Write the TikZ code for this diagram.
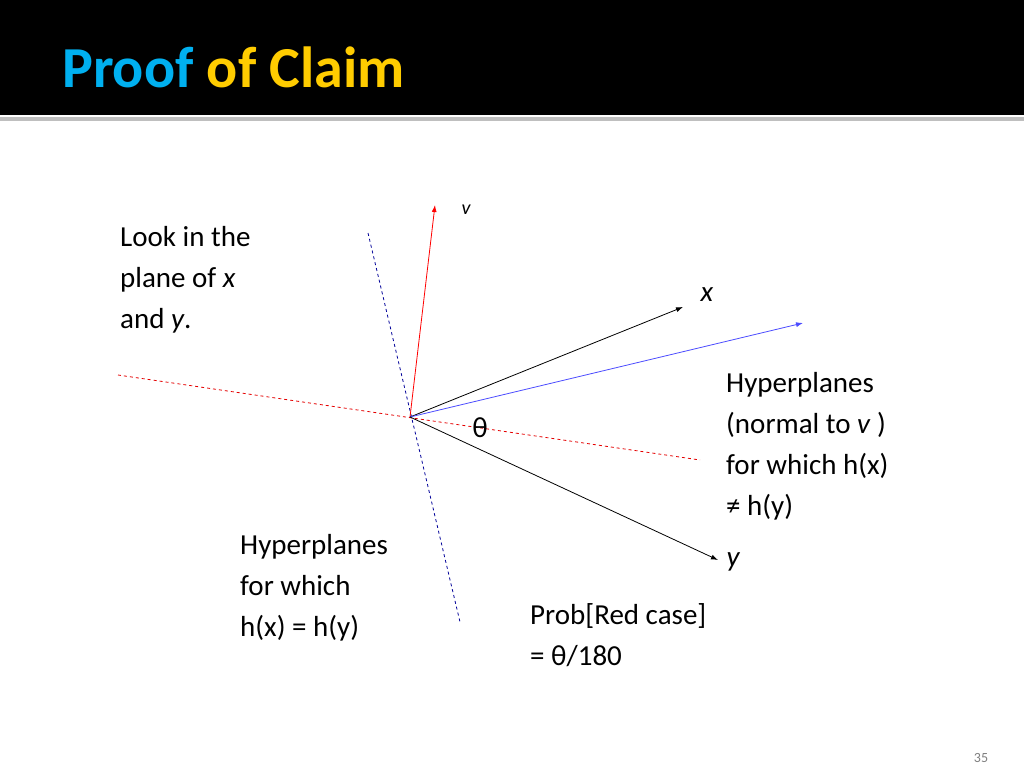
\documentclass[tikz,border=0pt]{standalone}
\usepackage{fontspec}
\setmainfont{Carlito}
\begin{document}
\begin{tikzpicture}[x=1pt,y=-1pt,
  txt/.style={anchor=north west,inner sep=0pt,align=left,font=\fontsize{29}{41}\selectfont},
  arr/.style={-{Latex[length=7pt,width=5pt]},line width=0.8pt},
  dsh/.style={dashed,line width=0.8pt}]
\usetikzlibrary{arrows.meta}
\useasboundingbox (0,0) rectangle (1024,768);
\fill[white] (0,0) rectangle (1024,768);
\fill[black] (0,0) rectangle (1024,115);
\fill[gray!50] (0,117) rectangle (1024,121);
\node[anchor=base west,inner sep=0pt,font=\fontsize{58}{60}\selectfont\bfseries] (title) at (62,87)
  {\textcolor[RGB]{0,176,240}{Proof} \textcolor[RGB]{255,204,0}{of Claim}};
\coordinate (O) at (410,417);
\coordinate (v) at (435,205);
\coordinate (xt) at (683,307);
\coordinate (bt) at (803,323);
\coordinate (yt) at (718,560);
\coordinate (r1) at (118,375);
\coordinate (r2) at (700,460);
\coordinate (b1) at (368,233);
\coordinate (b2) at (460,622);
\draw[dsh,red!90!black] (r1) -- (r2);
\draw[dsh,blue!60!black] (b1) -- (b2);
\draw[arr,red] (O) -- (v);
\draw[arr,black] (O) -- (xt);
\draw[arr,blue!70!white] (O) -- (bt);
\draw[arr,black] (O) -- (yt);
\node[font=\fontsize{20}{22}\selectfont\itshape] (vl) at (466,210) {v};
\node[font=\fontsize{29}{30}\selectfont\itshape] (xl) at (707,295) {x};
\node[font=\fontsize{29}{30}\selectfont] (th) at (480,428) {θ};
\node[font=\fontsize{29}{30}\selectfont\itshape] (yl) at (733,562) {y};
\node[txt] (t1) at (120,226) {Look in the\\plane of \textit{x}\\and \textit{y}.};
\node[txt] (t2) at (726,372) {Hyperplanes\\(normal to \textit{v} )\\for which h(x)\\≠ h(y)};
\node[txt] (t3) at (240,534) {Hyperplanes\\for which\\h(x) = h(y)};
\node[txt] (t4) at (530,603) {Prob[Red case]\\= θ/180};
\node[font=\fontsize{14}{16}\selectfont,text=gray] (pg) at (981,758) {35};
\end{tikzpicture}
\end{document}
